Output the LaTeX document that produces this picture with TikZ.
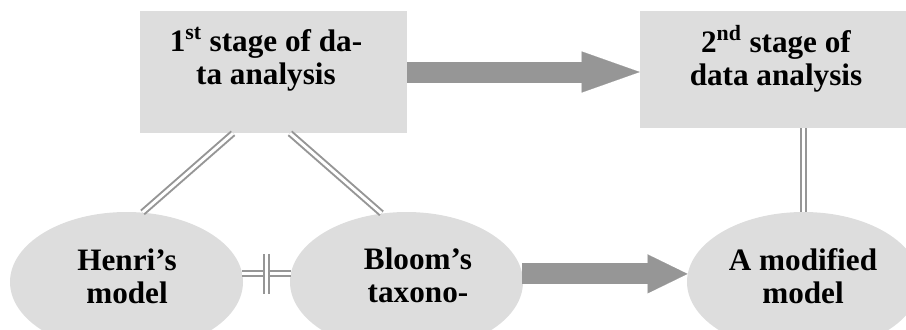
\documentclass[tikz,border=0pt]{standalone}
\usepackage{fontspec}
\setmainfont{Liberation Serif}
\usetikzlibrary{shapes.geometric, arrows.meta, calc}
\definecolor{shapegray}{RGB}{221,221,221}
\definecolor{arrowgray}{RGB}{150,150,150}

\begin{document}
\begin{tikzpicture}[
    x=0.75pt, y=-0.75pt,
    stagebox/.style={rectangle, fill=shapegray, inner sep=0pt, minimum width=200.25pt},
    model/.style={ellipse, fill=shapegray, inner sep=0pt, minimum width=174.75pt, minimum height=105pt},
    caption/.style={font=\fontsize{23.4}{24.6}\selectfont\bfseries, align=center, inner sep=0pt},
    bigarrow/.style={draw=arrowgray, line width=15.75pt},
    link/.style={draw=arrowgray, double=white, line width=1.5pt, double distance=2.2pt}
]
\useasboundingbox (0,0) rectangle (906,329);
\clip (0,0) rectangle (906,329);

% Stages
\node[stagebox, minimum height=91.5pt] (stage1) at (273.5,72) {};
\node[stagebox, minimum height=87.75pt] (stage2) at (773.5,69.5) {};
\node[caption] (stage1text) at (266,59) {1\textsuperscript{st} stage of da-\\ta analysis};
\node[caption] (stage2text) at (776,59) {2\textsuperscript{nd} stage of\\data analysis};

% Models
\node[model] (henri) at (126.5,282) {};
\node[model] (bloom) at (406.5,282) {};
\node[model] (modified) at (803.5,282) {};
\node[caption] (henritext) at (127,276) {Henri’s\\model};
\node[caption] (bloomtext) at (418,275) {Bloom’s\\taxono-};
\node[caption] (modifiedtext) at (803,276) {A modified\\model};

% Big arrows
\draw[bigarrow, -{Triangle[length=43.5pt, width=30.75pt, line width=0.1pt]}] (stage1.east) -- (stage1.east -| stage2.west);
\draw[bigarrow, -{Triangle[length=30pt, width=29.25pt, line width=0.1pt]}] (bloom.4) -- (modified.176);

% Links
\draw[link] ($(stage1.south)+(-40.5,0)$) -- (henri.77);
\draw[link] ($(stage1.south)+(16.5,0)$) -- (bloom.110);
\draw[link] (modified.north |- stage2.south) -- (modified.north);
\draw[link] (henri.4) -- (bloom.176);
\coordinate (hash) at ($(henri.4)!0.5!(bloom.176)$);
\draw[link] ($(hash)+(0,-20)$) -- ($(hash)+(0,20)$);

\end{tikzpicture}
\end{document}
